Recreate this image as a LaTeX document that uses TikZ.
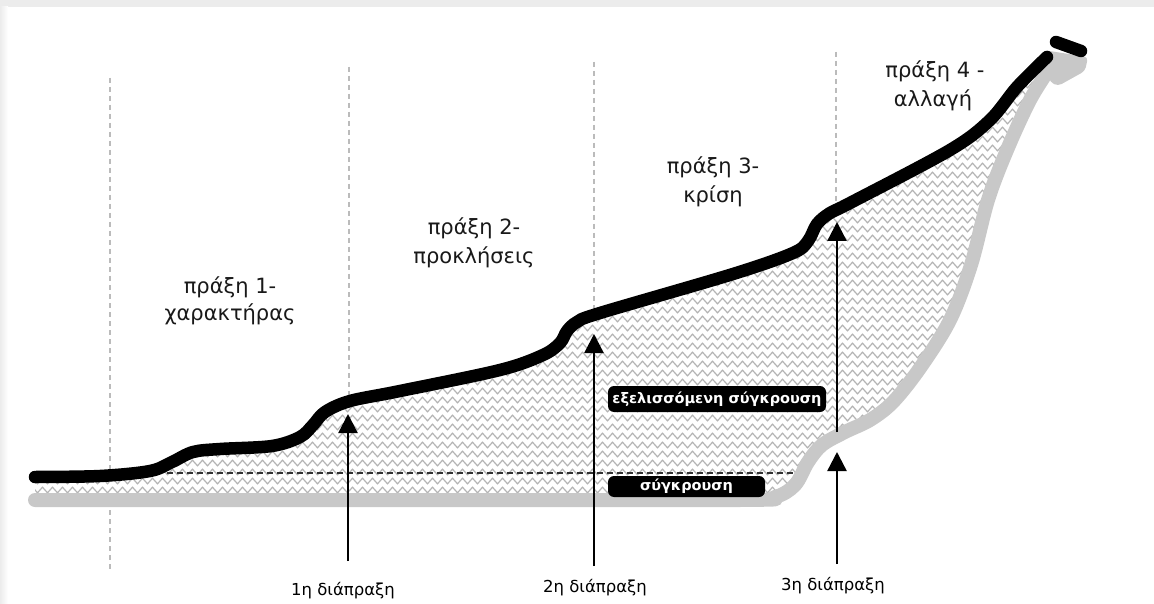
\documentclass[tikz,border=0pt]{standalone}
\usepackage{fontspec}
\setmainfont{DejaVu Sans}[BoldFont={DejaVu Sans Bold}]
\newfontfamily\tagfont{DejaVu Sans Bold}
\usetikzlibrary{arrows.meta,decorations.pathmorphing}
\definecolor{shadegray}{HTML}{C8C8C8}
\definecolor{hatchgray}{HTML}{B4B4B4}
\definecolor{guidegray}{HTML}{BBBBBB}
\definecolor{framegray}{HTML}{ECECEC}
\tikzset{
  guide/.style={guidegray, line width=1.3pt, dash pattern=on 5pt off 4pt},
  hatchline/.style={hatchgray, line width=1.2pt, decorate, decoration={zigzag, segment length=10pt, amplitude=2.8pt}},
  plotline/.style={line width=12.5pt, line cap=round, line join=round},
  groundline/.style={shadegray, line width=14pt, line cap=round, line join=round},
  basedash/.style={black!80, line width=1.2pt, dash pattern=on 6pt off 4pt},
  tagbox/.style={fill=black, text=white, rounded corners=6pt, inner sep=0pt, font=\tagfont\fontsize{14.5}{16}\selectfont},
  actlabel/.style={anchor=base, inner sep=0pt, text=black!90, font=\fontsize{21}{26}\selectfont},
  turnlabel/.style={anchor=base, inner sep=0pt, font=\fontsize{16.5}{20}\selectfont},
  turnarrow/.style={line width=2.4pt, -{Triangle[length=19pt,width=19pt]}}
}
\begin{document}
\begin{tikzpicture}[x=1pt,y=-1pt]
\useasboundingbox (0,0) rectangle (1154,604);
\fill[white] (0,0) rectangle (1154,604);
% screenshot frame
\fill[framegray] (0,0) rectangle (1154,7);
\shade[left color=framegray, right color=white] (0,7) rectangle (8,604);

% act dividers
\coordinate (d1t) at (110,78);  \coordinate (d1b) at (110,572);
\coordinate (d2t) at (349,67);  \coordinate (d2b) at (349,400);
\coordinate (d3t) at (594,62);  \coordinate (d3b) at (594,318);
\coordinate (d4t) at (836,52);  \coordinate (d4b) at (836,208);
\draw[guide] (d1t) -- (d1b);
\draw[guide] (d2t) -- (d2b);
\draw[guide] (d3t) -- (d3b);
\draw[guide] (d4t) -- (d4b);

% hatched region between plot line and ground line
\begin{scope}
\clip plot[smooth, tension=0.55] coordinates {(35,477) (100,476) (150,471) (172,462) (193,452) (220,449) (272,446) (300,437) (313,425) (325,412) (350,401) (400,391) (500,370) (543,355) (560,343) (567,331) (577,322) (600,313) (733,274) (793,253) (808,241) (817,224) (830,213) (850,203) (950,150) (990,120) (1017,87) (1047,57)}
  -- plot[smooth, tension=0.55] coordinates {(1050,66) (1030,100) (1007,150) (988,200) (971,265) (950,320) (920,368) (893,402) (870,420) (845,432) (822,445) (808,462) (795,485) (775,497) (740,500) (400,500) (35,500)} -- cycle;
\fill[white] (0,0) rectangle (1154,604);
\foreach \yy in {40,49,...,520}{
  \draw[hatchline] (20,\yy) -- (1110,\yy);
}
\end{scope}

% ground (grey) line
\draw[groundline] plot[smooth, tension=0.55] coordinates {(35,500) (400,500) (740,500) (775,497) (795,485) (808,462) (822,445) (845,432) (870,420) (893,402) (920,368) (950,320) (971,265) (988,200) (1007,150) (1030,100) (1050,68)};
\fill[shadegray, rounded corners=4pt] (1043,50) -- (1088,57) -- (1085,71) -- (1058,86) -- (1050,82) -- (1045,62) -- cycle;

% conflict baseline
\coordinate (bl1) at (167,473);
\coordinate (bl2) at (796,473);
\draw[basedash] (bl1) -- (bl2);

% plot (black) line
\draw[plotline] plot[smooth, tension=0.55] coordinates {(35,477) (100,476) (150,471) (172,462) (193,452) (220,449) (272,446) (300,437) (313,425) (325,412) (350,401) (400,391) (500,370) (543,355) (560,343) (567,331) (577,322) (600,313) (733,274) (793,253) (808,241) (817,224) (830,213) (850,203) (950,150) (990,120) (1017,87) (1047,57)};
\coordinate (cap1) at (1056,42);
\coordinate (cap2) at (1081,51);
\draw[plotline] (cap1) -- (cap2);

% tags
\node[tagbox, minimum width=218pt, minimum height=26pt] (evolving) at (717,399) {εξελισσόμενη σύγκρουση};
\node[tagbox, minimum width=157pt, minimum height=21pt] (conflict) at (686.5,486.5) {σύγκρουση};

% turning point arrows
\coordinate (t1s) at (348,561); \coordinate (t1e) at (348,414);
\coordinate (t2s) at (594,566); \coordinate (t2e) at (594,334);
\coordinate (t3s) at (837,432); \coordinate (t3e) at (837,222);
\coordinate (t4s) at (837,564); \coordinate (t4e) at (837,452);
\draw[turnarrow] (t1s) -- (t1e);
\draw[turnarrow] (t2s) -- (t2e);
\draw[turnarrow] (t3s) -- (t3e);
\draw[turnarrow] (t4s) -- (t4e);

% act labels
\node[actlabel] (a1a) at (230,293) {πράξη 1-};
\node[actlabel] (a1b) at (230,320) {χαρακτήρας};
\node[actlabel] (a2a) at (474,235) {πράξη 2-};
\node[actlabel] (a2b) at (474,263) {προκλήσεις};
\node[actlabel] (a3a) at (713,174) {πράξη 3-};
\node[actlabel] (a3b) at (713,203) {κρίση};
\node[actlabel] (a4a) at (935,78) {πράξη 4 -};
\node[actlabel] (a4b) at (933,107) {αλλαγή};

% turning point labels
\node[turnlabel] (p1) at (343,595) {1η διάπραξη};
\node[turnlabel] (p2) at (595,592) {2η διάπραξη};
\node[turnlabel] (p3) at (833,590) {3η διάπραξη};
\end{tikzpicture}
\end{document}
